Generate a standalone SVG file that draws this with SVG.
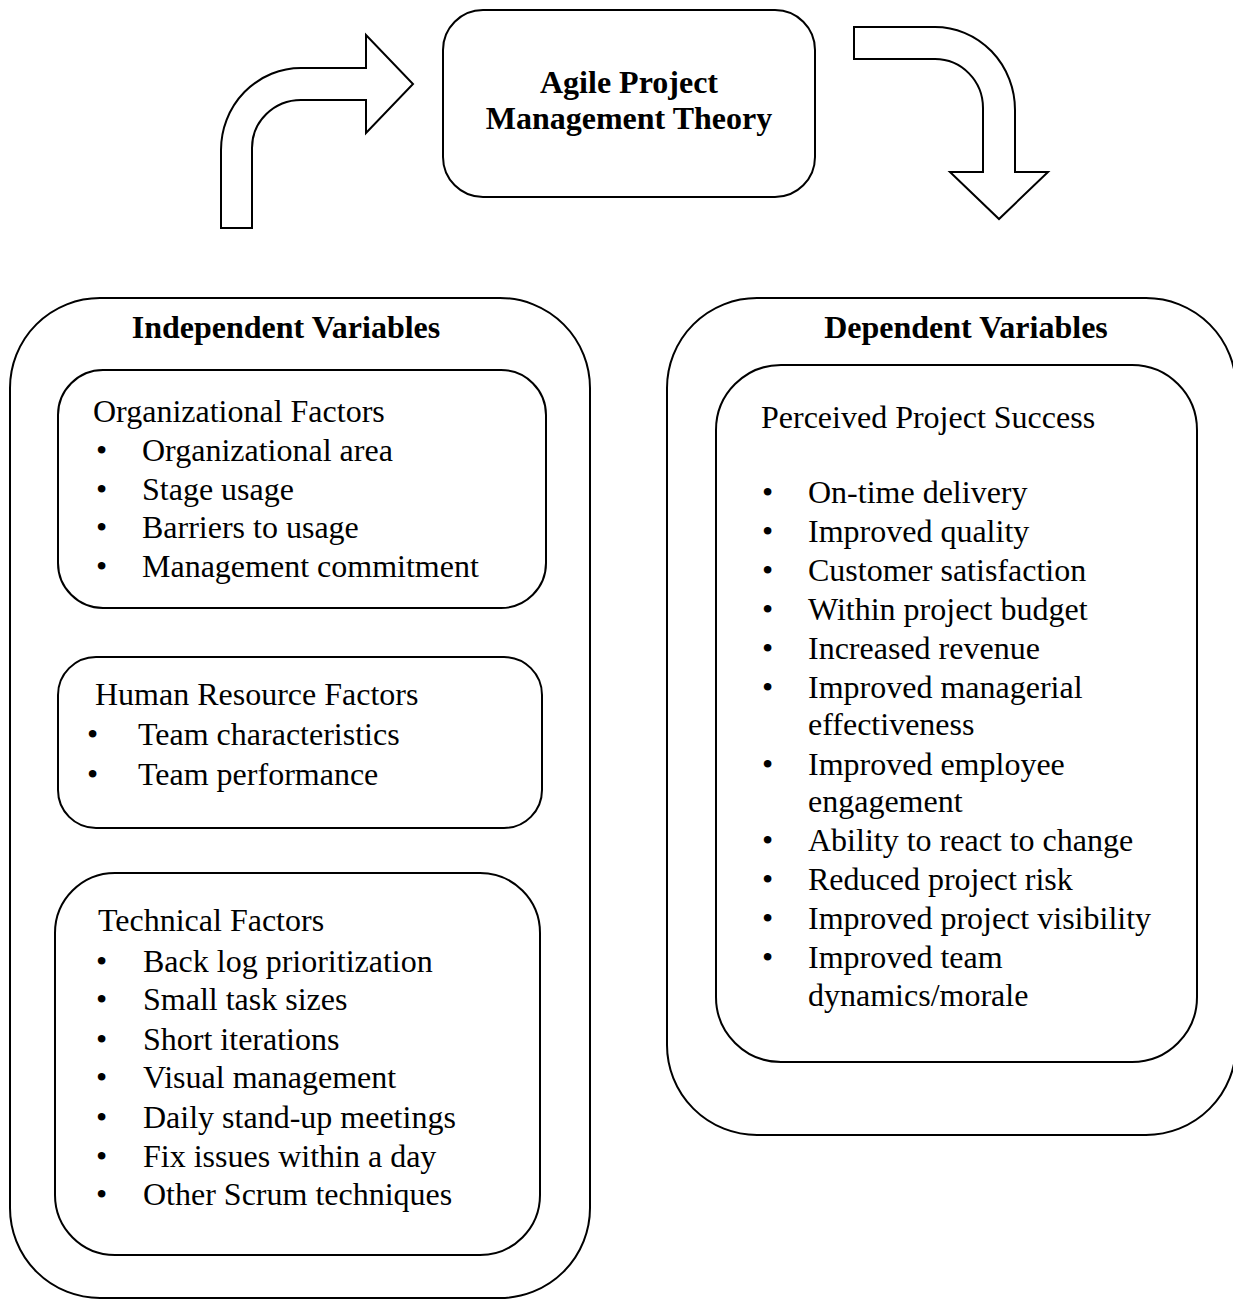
<svg xmlns="http://www.w3.org/2000/svg" width="1233" height="1300" viewBox="0 0 1233 1300">
<style>
.box{fill:#fff;stroke:#000;stroke-width:2}
.arr{fill:#fff;stroke:#000;stroke-width:2;stroke-linejoin:miter}
text{font-family:"Liberation Serif","Times New Roman",serif;font-size:32px;fill:#000}
.b{font-weight:bold;font-size:32px}
.c{text-anchor:middle}
</style>
<rect width="1233" height="1300" fill="#fff"/>
<g id="connectors">
<path class="arr" d="M221,228 L221,150 A80,82 0 0 1 301,68 L366,68 L366,35 L413,84 L366,133 L366,100 L301,100 A49,48 0 0 0 252,148 L252,228 Z"/>
<path class="arr" d="M854,27 L935,27 A80,83 0 0 1 1015,110 L1015,172 L1048,172 L999,219 L950,172 L983,172 L983,108 A48,49 0 0 0 935,59 L854,59 Z"/>
</g>
<g id="theory">
<rect class="box" x="443" y="10" width="372" height="187" rx="40"/>
<text class="b c" x="629" y="93">Agile Project</text>
<text class="b c" x="629" y="129">Management Theory</text>
</g>
<g id="independent">
<rect class="box" x="10" y="298" width="580" height="1000" rx="90"/>
<text class="b c" x="286" y="338">Independent Variables</text>
</g>
<g id="organizational">
<rect class="box" x="58" y="370" width="488" height="238" rx="45"/>
<text x="93" y="422">Organizational Factors</text>
<text x="96" y="461">•</text><text x="142" y="461">Organizational area</text>
<text x="96" y="500">•</text><text x="142" y="500">Stage usage</text>
<text x="96" y="538">•</text><text x="142" y="538">Barriers to usage</text>
<text x="96" y="577">•</text><text x="142" y="577">Management commitment</text>
</g>
<g id="human">
<rect class="box" x="58" y="657" width="484" height="171" rx="38"/>
<text x="95" y="705">Human Resource Factors</text>
<text x="87" y="745">•</text><text x="138" y="745">Team characteristics</text>
<text x="87" y="785">•</text><text x="138" y="785">Team performance</text>
</g>
<g id="technical">
<rect class="box" x="55" y="873" width="485" height="382" rx="60"/>
<text x="98" y="931">Technical Factors</text>
<text x="96" y="972">•</text><text x="143" y="972">Back log prioritization</text>
<text x="96" y="1010">•</text><text x="143" y="1010">Small task sizes</text>
<text x="96" y="1050">•</text><text x="143" y="1050">Short iterations</text>
<text x="96" y="1088">•</text><text x="143" y="1088">Visual management</text>
<text x="96" y="1128">•</text><text x="143" y="1128">Daily stand-up meetings</text>
<text x="96" y="1167">•</text><text x="143" y="1167">Fix issues within a day</text>
<text x="96" y="1205">•</text><text x="143" y="1205">Other Scrum techniques</text>
</g>
<g id="dependent">
<rect class="box" x="667" y="298" width="569" height="837" rx="90"/>
<text class="b c" x="966" y="338">Dependent Variables</text>
</g>
<g id="success">
<rect class="box" x="716" y="365" width="481" height="697" rx="65"/>
<text x="761" y="428">Perceived Project Success</text>
<text x="762" y="503">•</text><text x="808" y="503">On-time delivery</text>
<text x="762" y="542">•</text><text x="808" y="542">Improved quality</text>
<text x="762" y="581">•</text><text x="808" y="581">Customer satisfaction</text>
<text x="762" y="620">•</text><text x="808" y="620">Within project budget</text>
<text x="762" y="659">•</text><text x="808" y="659">Increased revenue</text>
<text x="762" y="698">•</text><text x="808" y="698">Improved managerial</text>
<text x="808" y="735">effectiveness</text>
<text x="762" y="775">•</text><text x="808" y="775">Improved employee</text>
<text x="808" y="812">engagement</text>
<text x="762" y="851">•</text><text x="808" y="851">Ability to react to change</text>
<text x="762" y="890">•</text><text x="808" y="890">Reduced project risk</text>
<text x="762" y="929">•</text><text x="808" y="929">Improved project visibility</text>
<text x="762" y="968">•</text><text x="808" y="968">Improved team</text>
<text x="808" y="1006">dynamics/morale</text>
</g>
</svg>
